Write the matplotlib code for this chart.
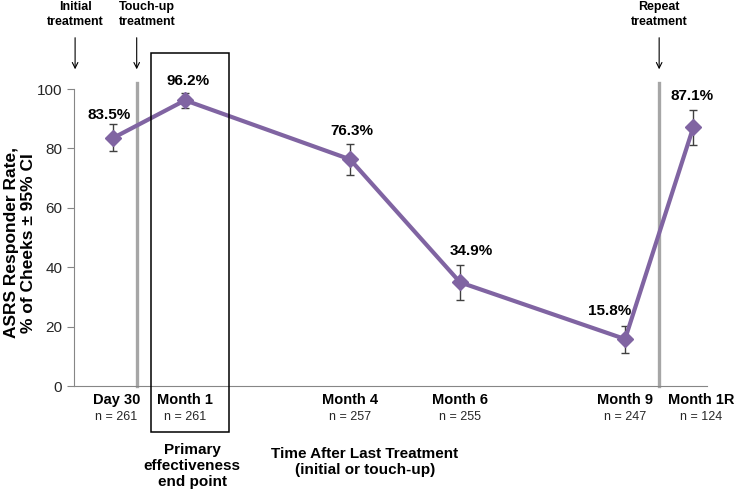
import matplotlib.pyplot as plt
from matplotlib.patches import Rectangle
import matplotlib.transforms as mtransforms

plt.rcParams['font.family'] = ['Liberation Sans', 'DejaVu Sans']

# data
TIMEPOINTS = ['Day 30', 'Month 1', 'Month 4', 'Month 6', 'Month 9', 'Month 1R']
N_CHEEKS = [261, 261, 257, 255, 247, 124]
RATE = [83.5, 96.2, 76.3, 34.9, 15.8, 87.1]
CI_LOW = [79.2, 93.6, 71.0, 29.1, 11.2, 81.2]
CI_HIGH = [88.2, 98.5, 81.5, 40.9, 20.3, 93.0]

# layout (months after last treatment)
X_POS = [-0.31, 1, 4, 6, 9, 10.24]
TICK_X = [-0.25, 1, 4, 6, 9, 10.38]
LABEL_OFF = [(-4, 23), (3, 19), (2, 28), (11, 31), (-15, 28), (-1, 31)]
TREAT_X = [-1.0, 0.12, 9.62]
TREAT_LABELS = ['Initial\ntreatment', 'Touch-up\ntreatment', 'Repeat\ntreatment']
TREAT_LABEL_X = [-1.0, 0.31, 9.62]

PURPLE = '#8064A2'
GRAY = '#A6A6A6'

fig = plt.figure(figsize=(7.35, 4.94), dpi=100)
ax = fig.add_axes([74 / 735, 1 - 386 / 494, 633 / 735, 297 / 494])

ax.set_xlim(-1.02, 10.49)
ax.set_ylim(0, 100)

# gray treatment bars (touch-up and repeat)
for tx in TREAT_X[1:]:
    ax.plot([tx, tx], [0, 102], color=GRAY, lw=2.4, clip_on=False, zorder=1)

yerr = [[r - lo for r, lo in zip(RATE, CI_LOW)], [hi - r for r, hi in zip(RATE, CI_HIGH)]]
ax.errorbar(X_POS, RATE, yerr=yerr, fmt='none', ecolor='#404040', elinewidth=1,
            capsize=3, capthick=1, zorder=2)
ax.plot(X_POS, RATE, color=PURPLE, lw=3, marker='D', markersize=8, zorder=3)

for x, v, off in zip(X_POS, RATE, LABEL_OFF):
    ax.annotate(f'{v:.1f}%', (x, v), xytext=off, textcoords='offset pixels',
                ha='center', va='center', fontsize=11, fontweight='bold')

# axes styling
for s in ['top', 'right']:
    ax.spines[s].set_visible(False)
ax.spines['left'].set_color('#868686')
ax.spines['bottom'].set_color('#868686')
ax.set_yticks([0, 20, 40, 60, 80, 100])
ax.tick_params(axis='y', colors='#868686', labelcolor='#262626', labelsize=11, length=5)
ax.set_xticks([])
fig.text(20 / 735, 1 - 243 / 494, 'ASRS Responder Rate,\n% of Cheeks ± 95% CI',
         rotation=90, ha='center', va='center', fontsize=12.5, fontweight='bold',
         linespacing=1.15)

trans = mtransforms.blended_transform_factory(ax.transData, ax.transAxes)
for x, name, n in zip(TICK_X, TIMEPOINTS, N_CHEEKS):
    ax.text(x, -14 / 297, name, transform=trans, ha='center', va='center',
            fontsize=10.5, fontweight='bold')
    ax.text(x, -31 / 297, f'n = {n}', transform=trans, ha='center', va='center',
            fontsize=9, color='#262626')

# arrows and treatment labels
for tx, lab, lx in zip(TREAT_X, TREAT_LABELS, TREAT_LABEL_X):
    ax.annotate('', xy=(tx, 1.057), xytext=(tx, 1.182), xycoords=trans,
                textcoords=trans, annotation_clip=False,
                arrowprops=dict(arrowstyle='->', color='black', lw=0.8))
    ax.text(lx, 1.25, lab, transform=trans, ha='center', va='center',
            fontsize=9, fontweight='bold', linespacing=1.3)

# primary end point box
fig.patches.append(Rectangle((151 / 735, 1 - 432 / 494), 78 / 735, 379 / 494,
                             transform=fig.transFigure, fill=False, ec='black', lw=1.1))
fig.text(192 / 735, 1 - 466 / 494, 'Primary\neffectiveness\nend point', ha='center',
         va='center', fontsize=11, fontweight='bold', linespacing=1.15)
fig.text(365 / 735, 1 - 462 / 494, 'Time After Last Treatment\n(initial or touch-up)',
         ha='center', va='center', fontsize=11, fontweight='bold', linespacing=1.2)

fig.savefig('out.png', dpi=100)
